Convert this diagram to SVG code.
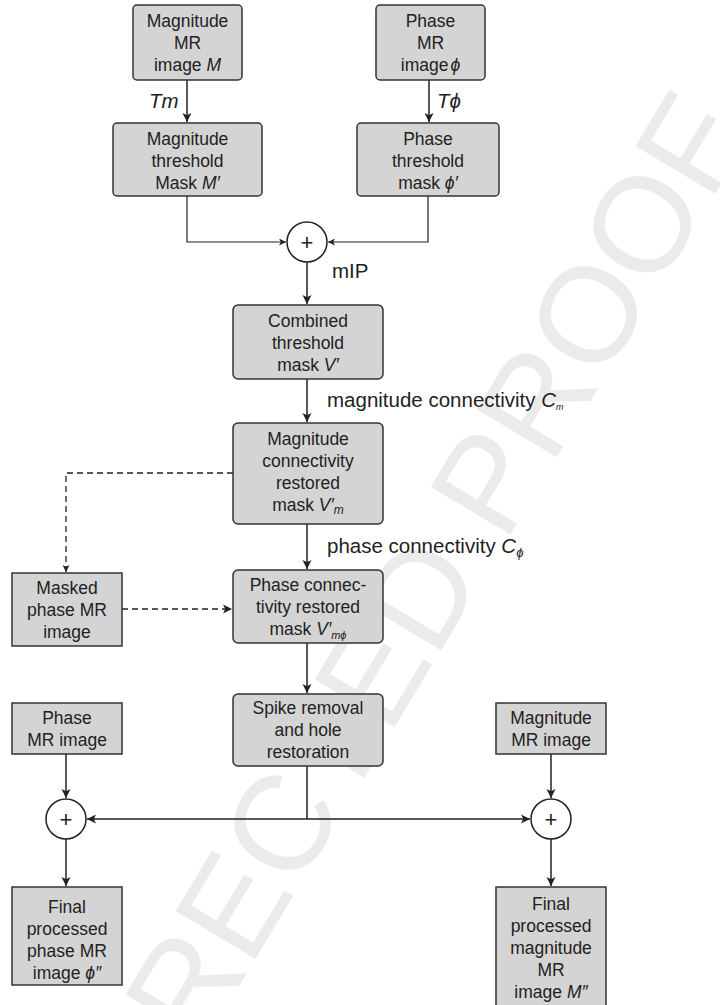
<svg xmlns="http://www.w3.org/2000/svg" width="720" height="1005" viewBox="0 0 720 1005">
<defs>
<style>
.wm{font-family:"Liberation Sans",Arial,sans-serif;font-size:135px;fill:#ebebeb}
.box{fill:#d4d4d4;stroke:#333;stroke-width:1.5}
.t{font-family:"Liberation Sans",Arial,sans-serif;font-size:17.5px;fill:#222;text-anchor:middle}
.lb{font-family:"Liberation Sans",Arial,sans-serif;font-size:20.5px;fill:#222}
.pl{font-family:"Liberation Sans",Arial,sans-serif;font-size:22px;fill:#222;text-anchor:middle}
.i{font-style:italic}
.ln{fill:none;stroke:#222;stroke-width:1.5}
.thin{fill:none;stroke:#222;stroke-width:1.2}
.dash{fill:none;stroke:#222;stroke-width:1.3;stroke-dasharray:6 4}
.circ{fill:#fff;stroke:#222;stroke-width:1.5}
</style>
<marker id="ah" viewBox="0 0 10 10" refX="10" refY="5" markerWidth="9" markerHeight="11" orient="auto" markerUnits="userSpaceOnUse"><path d="M0,0 L10,5 L0,10 L2.5,5 z" fill="#222"/></marker>
<marker id="as" viewBox="0 0 10 10" refX="10" refY="5" markerWidth="7" markerHeight="7" orient="auto" markerUnits="userSpaceOnUse"><path d="M0,0 L10,5 L0,10 L2.5,5 z" fill="#222"/></marker>
</defs>
<rect width="720" height="1005" fill="#fff"/>
<text class="wm" transform="translate(45,1309) rotate(-59)">CORRECTED PROOF</text>

<g id="connectors">
<line class="ln" x1="187" y1="80" x2="187" y2="122" marker-end="url(#ah)"/>
<line class="ln" x1="429" y1="80" x2="429" y2="122" marker-end="url(#ah)"/>
<polyline class="thin" points="187,196 187,242 286,242" marker-end="url(#as)"/>
<polyline class="thin" points="428,196 428,242 328,242" marker-end="url(#as)"/>
<line class="ln" x1="307" y1="262" x2="307" y2="304" marker-end="url(#ah)"/>
<line class="ln" x1="307" y1="379" x2="307" y2="422" marker-end="url(#ah)"/>
<line class="ln" x1="307" y1="524" x2="307" y2="569" marker-end="url(#ah)"/>
<polyline class="dash" points="233,473 66,473 66,572" marker-end="url(#as)"/>
<line class="dash" x1="122" y1="609" x2="232" y2="609" marker-end="url(#ah)"/>
<line class="ln" x1="307" y1="643" x2="307" y2="693" marker-end="url(#ah)"/>
<line class="ln" x1="307" y1="766" x2="307" y2="819"/>
<line class="ln" x1="307" y1="819" x2="87" y2="819" marker-end="url(#ah)"/>
<line class="ln" x1="307" y1="819" x2="530" y2="819" marker-end="url(#ah)"/>
<line class="ln" x1="66" y1="754" x2="66" y2="798" marker-end="url(#ah)"/>
<line class="ln" x1="551" y1="754" x2="551" y2="798" marker-end="url(#ah)"/>
<line class="ln" x1="66" y1="839" x2="66" y2="886" marker-end="url(#ah)"/>
<line class="ln" x1="551" y1="839" x2="551" y2="886" marker-end="url(#ah)"/>
<text class="lb i" x="149" y="108">Tm</text>
<text class="lb i" x="437" y="108">Tϕ</text>
<text class="lb" x="332" y="278">mIP</text>
<text class="lb" x="327" y="407">magnitude connectivity <tspan class="i">C</tspan><tspan class="i" font-size="9" dy="3">m</tspan></text>
<text class="lb" x="327" y="553">phase connectivity <tspan class="i">C</tspan><tspan class="i" font-size="13" dy="4">ϕ</tspan></text>
</g>

<g id="n1"><rect class="box" x="133" y="5" width="109" height="75" rx="4"/>
<text class="t" x="187.5" y="27">Magnitude</text><text class="t" x="187.5" y="49">MR</text><text class="t" x="187.5" y="71">image <tspan class="i">M</tspan></text></g>

<g id="n2"><rect class="box" x="376" y="5" width="109" height="75" rx="4"/>
<text class="t" x="430.5" y="27">Phase</text><text class="t" x="430.5" y="49">MR</text><text class="t" x="430.5" y="71">image<tspan class="i" dx="2">ϕ</tspan></text></g>

<g id="n3"><rect class="box" x="113" y="123" width="149" height="73" rx="4"/>
<text class="t" x="187.5" y="145">Magnitude</text><text class="t" x="187.5" y="167">threshold</text><text class="t" x="187.5" y="189">Mask <tspan class="i">M′</tspan></text></g>

<g id="n4"><rect class="box" x="357" y="123" width="142" height="73" rx="4"/>
<text class="t" x="428" y="145">Phase</text><text class="t" x="428" y="167">threshold</text><text class="t" x="428" y="189">mask <tspan class="i">ϕ′</tspan></text></g>

<g id="plus1"><circle class="circ" cx="307" cy="242" r="20"/><text class="pl" x="307" y="250">+</text></g>

<g id="n5"><rect class="box" x="233" y="305" width="150" height="74" rx="5"/>
<text class="t" x="308" y="327">Combined</text><text class="t" x="308" y="349">threshold</text><text class="t" x="308" y="371">mask <tspan class="i">V′</tspan></text></g>

<g id="n6"><rect class="box" x="233" y="423" width="150" height="101" rx="5"/>
<text class="t" x="308" y="445">Magnitude</text><text class="t" x="308" y="467">connectivity</text><text class="t" x="308" y="489">restored</text><text class="t" x="308" y="511">mask <tspan class="i">V′</tspan><tspan class="i" font-size="12" dy="3">m</tspan></text></g>

<g id="n7"><rect class="box" x="12" y="573" width="110" height="73"/>
<text class="t" x="67" y="594">Masked</text><text class="t" x="67" y="616">phase MR</text><text class="t" x="67" y="638">image</text></g>

<g id="n8"><rect class="box" x="233" y="570" width="150" height="73" rx="5"/>
<text class="t" x="308" y="591">Phase connec-</text><text class="t" x="308" y="613">tivity restored</text><text class="t" x="308" y="635">mask <tspan class="i">V′</tspan><tspan class="i" font-size="11" dy="4">mϕ</tspan></text></g>

<g id="n9"><rect class="box" x="233" y="694" width="150" height="72" rx="5"/>
<text class="t" x="308" y="714">Spike removal</text><text class="t" x="308" y="736">and hole</text><text class="t" x="308" y="758">restoration</text></g>

<g id="n10"><rect class="box" x="12" y="703" width="110" height="51"/>
<text class="t" x="67" y="724">Phase</text><text class="t" x="67" y="746">MR image</text></g>

<g id="n11"><rect class="box" x="496" y="703" width="110" height="51"/>
<text class="t" x="551" y="724">Magnitude</text><text class="t" x="551" y="746">MR image</text></g>

<g id="plus2"><circle class="circ" cx="66" cy="819" r="20"/><text class="pl" x="66" y="827">+</text></g>
<g id="plus3"><circle class="circ" cx="551" cy="819" r="20"/><text class="pl" x="551" y="827">+</text></g>

<g id="n12"><rect class="box" x="12" y="887" width="110" height="98"/>
<text class="t" x="67" y="913">Final</text><text class="t" x="67" y="935">processed</text><text class="t" x="67" y="957">phase MR</text><text class="t" x="67" y="979">image <tspan class="i">ϕ″</tspan></text></g>

<g id="n13"><rect class="box" x="496" y="887" width="110" height="125"/>
<text class="t" x="551" y="910">Final</text><text class="t" x="551" y="932">processed</text><text class="t" x="551" y="954">magnitude</text><text class="t" x="551" y="976">MR</text><text class="t" x="551" y="998">image <tspan class="i">M″</tspan></text></g>
</svg>
